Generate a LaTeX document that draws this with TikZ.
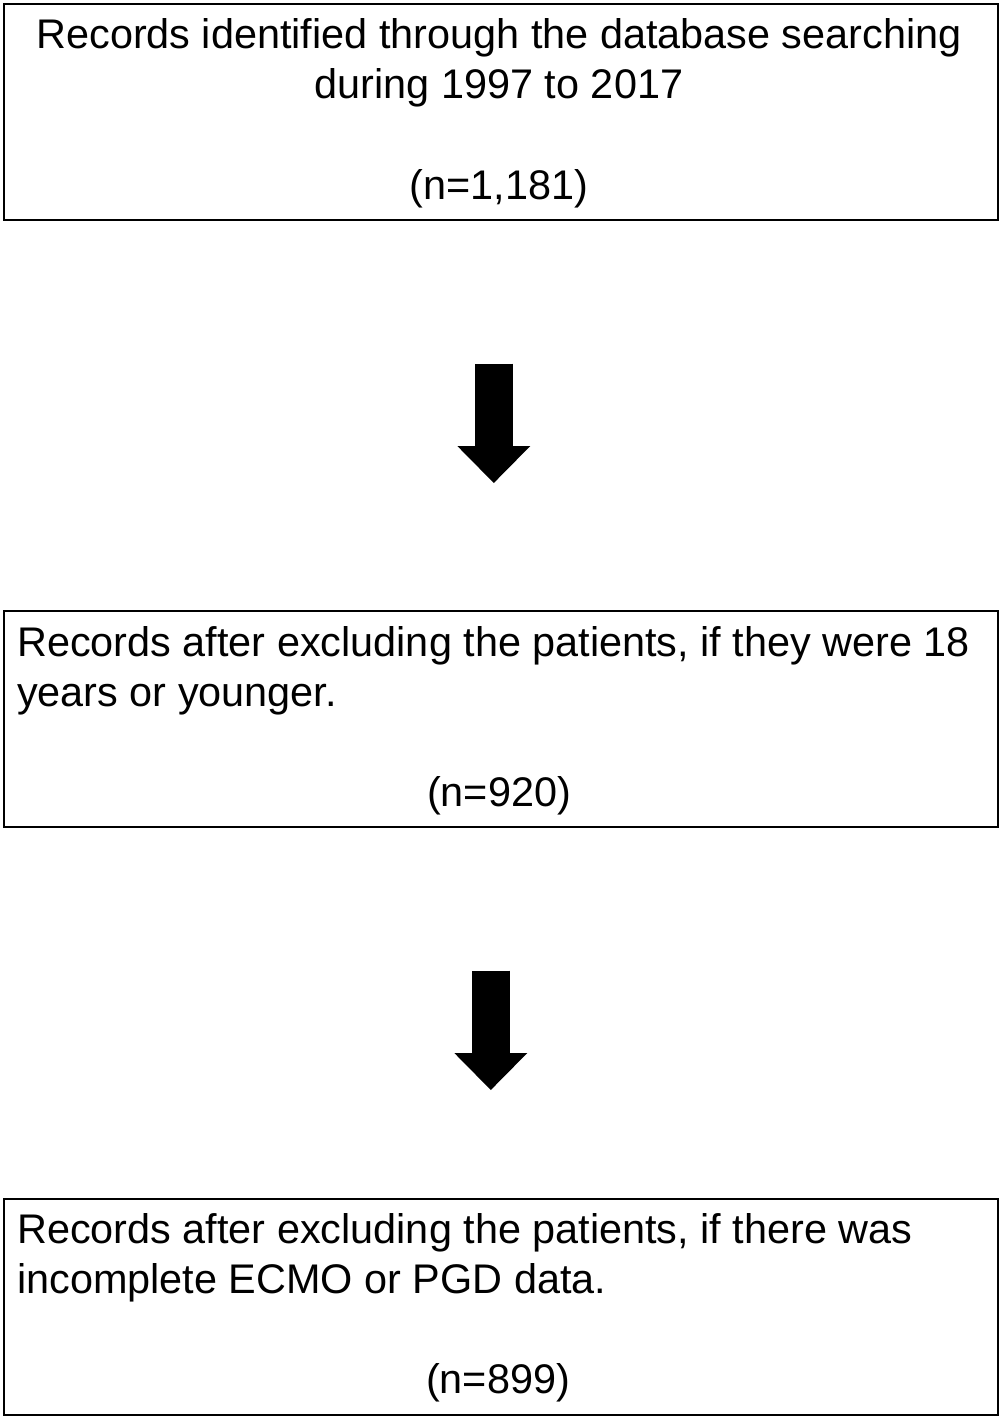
\documentclass[tikz,border=0pt]{standalone}
\usepackage{fontspec}
\setmainfont{Liberation Sans}
\usetikzlibrary{arrows.meta}
\begin{document}
\begin{tikzpicture}[x=1pt,y=-1pt,
  box/.style={draw=black, line width=1.6pt, minimum width=994pt, minimum height=216pt, inner sep=0pt, anchor=north west},
  txt/.style={font=\fontsize{41.4}{50}\selectfont, inner sep=0pt},
  blockarrow/.style={line width=38pt, black, -{Triangle[width=73pt,length=37pt,line width=0pt]}}]
\useasboundingbox (0,0) rectangle (1001,1418);
\fill[white] (0,0) rectangle (1001,1418);
\node[box] (b1) at (3,3) {};
\node[box] (b2) at (3,610) {};
\node[box] (b3) at (3,1198) {};
\node[txt, anchor=base] (t1a) at (499,49) {Records identified through the database searching};
\node[txt, anchor=base] (t1b) at (499,99) {during 1997 to 2017};
\node[txt, anchor=base] (t1c) at (499,199) {(n=1,181)};
\node[txt, anchor=base west] (t2a) at (17,656) {Records after excluding the patients, if they were 18};
\node[txt, anchor=base west] (t2b) at (17,706) {years or younger.};
\node[txt, anchor=base] (t2c) at (499,806) {(n=920)};
\node[txt, anchor=base west] (t3a) at (17,1243) {Records after excluding the patients, if there was};
\node[txt, anchor=base west] (t3b) at (17,1293) {incomplete ECMO or PGD data.};
\node[txt, anchor=base] (t3c) at (498,1393) {(n=899)};
\draw[blockarrow, shorten <=143pt, shorten >=127pt] ([xshift=-7pt]b1.south) -- ([xshift=-7pt]b2.north);
\draw[blockarrow, shorten <=143pt, shorten >=108pt] ([xshift=-10pt]b2.south) -- ([xshift=-10pt]b3.north);
\end{tikzpicture}
\end{document}
